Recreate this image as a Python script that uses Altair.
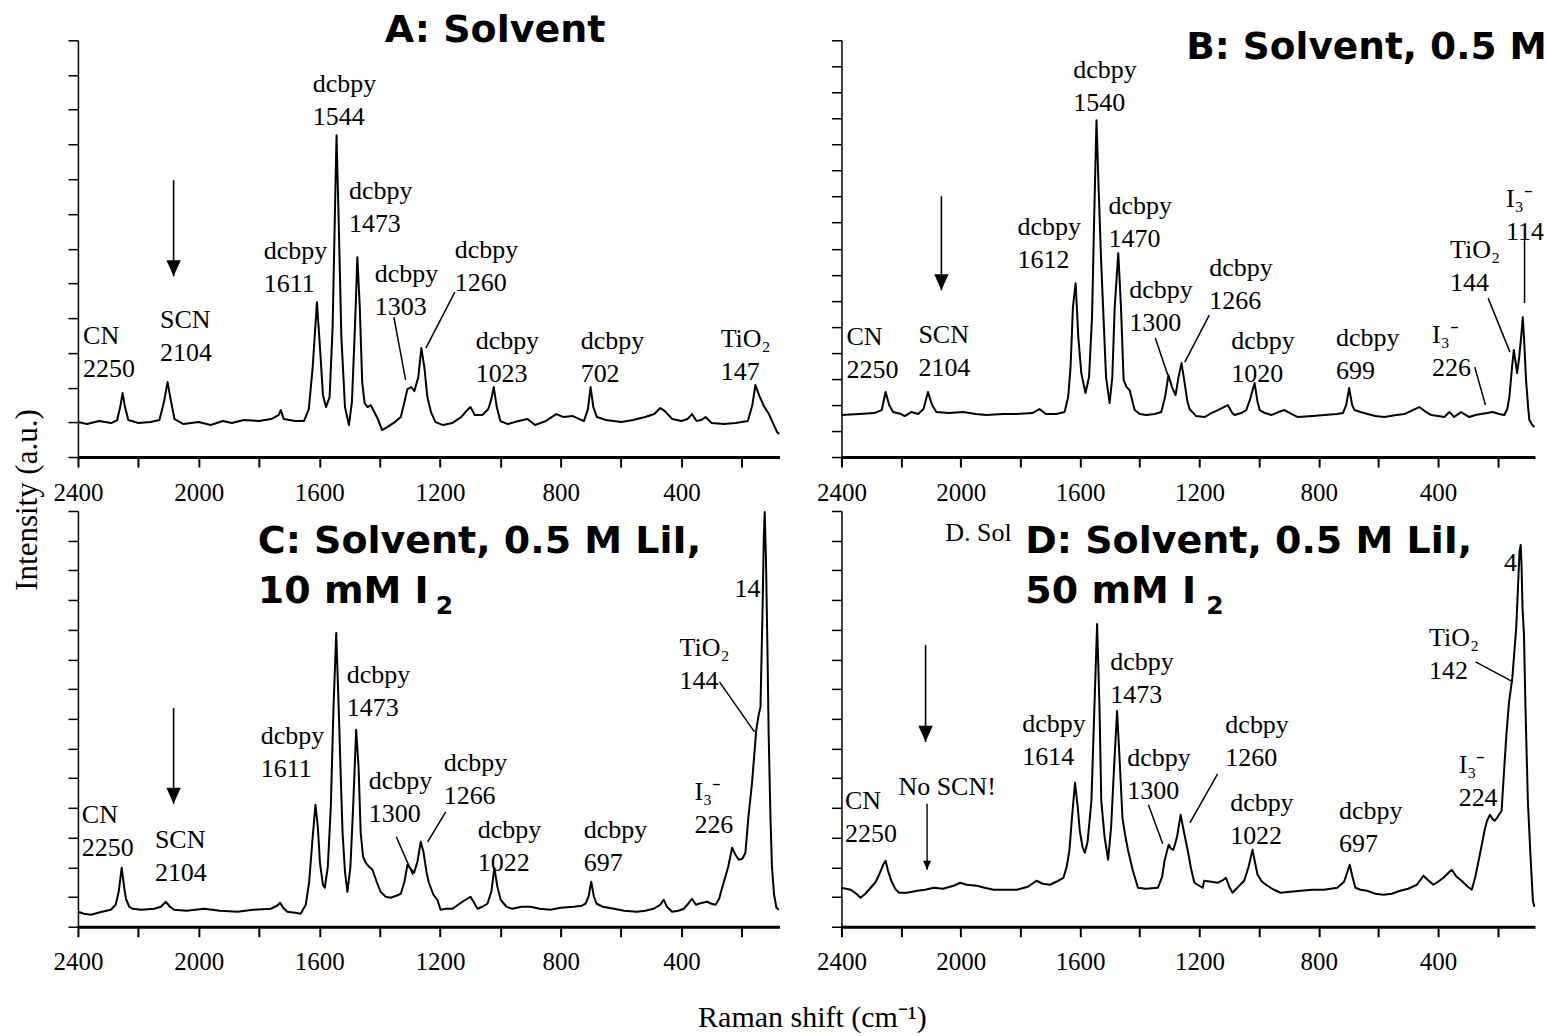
import altair as alt
import pandas as pd

SERIF = "Liberation Serif"
SANS = "DejaVu Sans"

# ---------------- spectra: (Raman shift cm-1, intensity a.u.) ----------------
A_SPECTRUM = [
    (2400, 35), (2370, 33), (2330, 36), (2290, 34), (2270, 37), (2260, 50), (2252, 64), (2244, 50),
    (2233, 37), (2200, 34), (2160, 35), (2130, 37), (2115, 55), (2103, 75), (2093, 58), (2080, 38),
    (2050, 33), (2000, 35), (1960, 32), (1920, 36), (1890, 34), (1850, 37), (1800, 36), (1760, 38),
    (1735, 42), (1728, 47), (1718, 38), (1680, 36), (1651, 36), (1635, 48), (1622, 90), (1608, 155),
    (1598, 110), (1588, 62), (1578, 50), (1566, 60), (1556, 130), (1548, 250), (1543, 322), (1537, 250),
    (1527, 120), (1515, 50), (1502, 32), (1492, 55), (1482, 130), (1474, 200), (1466, 150), (1458, 75),
    (1450, 54), (1440, 50), (1430, 52), (1418, 45), (1406, 38), (1392, 27), (1375, 30), (1350, 35),
    (1330, 40), (1318, 55), (1308, 68), (1295, 70), (1285, 66), (1272, 80), (1262, 109), (1252, 90),
    (1242, 60), (1230, 45), (1215, 35), (1190, 32), (1160, 34), (1130, 40), (1110, 47), (1099, 50),
    (1085, 42), (1060, 42), (1040, 48), (1030, 58), (1022, 70), (1012, 50), (1000, 36), (975, 33),
    (940, 36), (910, 38), (885, 32), (850, 36), (815, 43), (790, 40), (760, 41), (723, 36),
    (710, 48), (701, 70), (692, 50), (680, 40), (650, 37), (600, 35), (560, 37), (520, 40),
    (490, 43), (470, 49), (455, 46), (430, 38), (400, 36), (380, 38), (365, 43), (350, 36),
    (335, 37), (320, 40), (300, 34), (260, 33), (220, 34), (180, 36), (165, 52), (155, 72),
    (140, 60), (125, 50), (110, 43), (95, 33), (83, 25), (76, 23),
]

B_SPECTRUM = [
    (2400, 42), (2340, 43), (2290, 44), (2265, 47), (2252, 65), (2240, 52), (2227, 45), (2200, 43),
    (2188, 41), (2166, 45), (2143, 43), (2125, 48), (2110, 65), (2096, 52), (2082, 45), (2040, 44),
    (1992, 45), (1950, 43), (1914, 42), (1860, 43), (1814, 43), (1760, 44), (1736, 48), (1715, 43),
    (1680, 43), (1652, 45), (1640, 60), (1632, 90), (1624, 150), (1615, 174), (1606, 120), (1596, 84),
    (1582, 64), (1570, 80), (1560, 140), (1552, 250), (1545, 337), (1538, 270), (1530, 200), (1523, 150),
    (1513, 80), (1501, 54), (1492, 80), (1484, 150), (1472, 204), (1463, 150), (1454, 77), (1444, 70),
    (1434, 67), (1424, 55), (1417, 47), (1400, 43), (1378, 42), (1350, 43), (1328, 45), (1315, 60),
    (1304, 82), (1292, 70), (1280, 62), (1270, 80), (1260, 94), (1250, 75), (1240, 55), (1233, 48),
    (1211, 41), (1183, 40), (1160, 44), (1138, 47), (1105, 52), (1090, 44), (1082, 42), (1060, 44),
    (1043, 47), (1030, 58), (1015, 74), (1005, 55), (998, 47), (980, 44), (959, 42), (935, 45),
    (915, 47), (890, 43), (870, 40), (820, 41), (781, 42), (740, 43), (719, 44), (708, 52),
    (698, 69), (688, 52), (680, 47), (660, 45), (636, 43), (610, 41), (580, 40), (540, 42),
    (513, 43), (485, 47), (463, 50), (445, 46), (423, 42), (400, 41), (379, 40), (362, 45),
    (346, 40), (323, 45), (295, 40), (275, 42), (256, 43), (235, 44), (217, 45), (195, 43),
    (178, 42), (168, 48), (161, 60), (152, 90), (146, 107), (140, 95), (135, 84), (128, 100),
    (120, 125), (116, 140), (112, 120), (105, 77), (98, 50), (94, 37), (86, 33), (77, 30),
]

C_SPECTRUM = [
    (2400, 15), (2380, 13), (2357, 12), (2320, 15), (2291, 17), (2275, 22), (2265, 35), (2255, 59),
    (2247, 40), (2241, 28), (2230, 20), (2219, 18), (2190, 17), (2147, 18), (2125, 20), (2109, 25),
    (2095, 20), (2081, 17), (2040, 16), (1982, 18), (1930, 16), (1871, 15), (1820, 17), (1761, 18),
    (1740, 21), (1730, 24), (1720, 19), (1706, 15), (1680, 14), (1662, 13), (1645, 22), (1634, 44),
    (1622, 90), (1613, 122), (1605, 100), (1598, 64), (1588, 42), (1582, 39), (1572, 60), (1562, 120),
    (1553, 220), (1544, 294), (1536, 220), (1528, 140), (1523, 94), (1515, 55), (1507, 35), (1497, 60),
    (1488, 120), (1478, 197), (1470, 160), (1463, 94), (1455, 70), (1446, 64), (1435, 60), (1424, 57),
    (1410, 45), (1397, 35), (1380, 30), (1364, 29), (1345, 31), (1330, 33), (1318, 45), (1308, 62),
    (1297, 58), (1286, 54), (1275, 65), (1264, 85), (1255, 75), (1245, 55), (1237, 44), (1222, 32),
    (1209, 27), (1198, 17), (1180, 18), (1159, 18), (1140, 22), (1126, 25), (1099, 30), (1087, 24),
    (1076, 18), (1060, 20), (1043, 23), (1030, 35), (1020, 59), (1010, 40), (999, 27), (980, 20),
    (961, 18), (930, 20), (900, 20), (870, 18), (834, 17), (800, 19), (757, 20), (730, 21),
    (718, 23), (708, 30), (699, 45), (690, 30), (681, 23), (660, 20), (624, 18), (590, 16),
    (547, 15), (520, 16), (492, 18), (470, 22), (459, 27), (448, 20), (431, 15), (410, 16),
    (392, 18), (375, 24), (365, 28), (352, 22), (343, 23), (330, 24), (315, 25), (300, 23),
    (287, 22), (275, 28), (268, 36), (260, 44), (245, 60), (232, 79), (221, 72), (210, 67),
    (198, 68), (188, 74), (178, 110), (166, 144), (152, 197), (144, 212), (138, 220), (131, 320),
    (127, 390), (124, 415), (120, 370), (115, 280), (111, 194), (105, 110), (100, 60), (93, 32),
    (85, 19), (77, 17),
]

D_SPECTRUM = [
    (2400, 39), (2385, 38), (2369, 37), (2350, 33), (2336, 29), (2320, 33), (2302, 39), (2285, 45),
    (2274, 52), (2260, 62), (2252, 66), (2244, 56), (2233, 46), (2220, 38), (2207, 34), (2180, 34),
    (2146, 36), (2120, 37), (2090, 39), (2060, 38), (2024, 41), (2002, 44), (1980, 42), (1946, 41),
    (1920, 39), (1890, 37), (1850, 37), (1812, 37), (1775, 40), (1746, 46), (1725, 43), (1701, 42),
    (1680, 45), (1656, 49), (1645, 60), (1636, 76), (1627, 110), (1617, 144), (1608, 120), (1601, 96),
    (1592, 80), (1584, 74), (1575, 85), (1562, 126), (1552, 220), (1543, 303), (1535, 220), (1529, 126),
    (1518, 90), (1506, 67), (1496, 100), (1486, 160), (1476, 216), (1468, 170), (1458, 109), (1448, 90),
    (1439, 76), (1423, 56), (1406, 39), (1380, 38), (1339, 39), (1325, 50), (1317, 66), (1303, 82),
    (1295, 78), (1287, 77), (1275, 90), (1263, 112), (1252, 95), (1239, 76), (1228, 58), (1217, 44),
    (1189, 39), (1184, 46), (1160, 45), (1139, 44), (1120, 47), (1111, 49), (1100, 40), (1089, 34),
    (1070, 40), (1050, 46), (1035, 60), (1022, 77), (1012, 62), (1005, 52), (990, 45), (972, 41),
    (950, 37), (928, 34), (895, 35), (861, 36), (820, 37), (783, 37), (760, 38), (738, 39),
    (715, 45), (696, 62), (687, 50), (677, 39), (660, 37), (638, 36), (610, 33), (583, 32),
    (555, 33), (527, 36), (500, 38), (471, 42), (449, 51), (435, 47), (416, 42), (400, 45),
    (382, 49), (365, 54), (354, 57), (338, 50), (321, 46), (300, 40), (287, 37), (275, 50),
    (260, 72), (245, 95), (236, 106), (226, 112), (218, 108), (210, 106), (200, 110), (187, 116),
    (180, 150), (171, 192), (162, 225), (151, 249), (143, 280), (138, 299), (132, 340), (127, 375),
    (123, 382), (120, 360), (117, 320), (112, 292), (107, 220), (99, 126), (90, 70), (82, 26),
    (77, 20),
]

# ---------------- peak annotations: (text, shift at left edge, intensity at centre) ----------------
A_LABELS = [
    ("CN\n2250", 2383, 105), ("SCN\n2104", 2128, 121), ("dcbpy\n1611", 1784, 190),
    ("dcbpy\n1544", 1622, 357), ("dcbpy\n1473", 1502, 250), ("dcbpy\n1303", 1416, 167),
    ("dcbpy\n1260", 1151, 191), ("dcbpy\n1023", 1082, 100), ("dcbpy\n702", 734, 100),
    ("TiO\u2082\n147", 270, 102),
]
B_LABELS = [
    ("CN\n2250", 2383, 104), ("SCN\n2104", 2142, 106), ("dcbpy\n1612", 1810, 214),
    ("dcbpy\n1540", 1623, 371), ("dcbpy\n1470", 1505, 235), ("dcbpy\n1300", 1435, 151),
    ("dcbpy\n1266", 1167, 173), ("dcbpy\n1020", 1093, 100), ("dcbpy\n699", 742, 103),
    ("I\u2083\u207b\n226", 420, 106), ("TiO\u2082\n144", 360, 191), ("I\u2083\u207b\n114", 172, 242),
]
C_LABELS = [
    ("CN\n2250", 2387, 95), ("SCN\n2104", 2145, 70), ("dcbpy\n1611", 1794, 174),
    ("dcbpy\n1473", 1509, 235), ("dcbpy\n1300", 1436, 129), ("dcbpy\n1266", 1188, 147),
    ("dcbpy\n1022", 1075, 80), ("dcbpy\n697", 724, 80), ("I\u2083\u207b\n226", 357, 118),
    ("TiO\u2082\n144", 406, 262), ("14", 224, 338),
]
D_LABELS = [
    ("D. Sol", 2052, 394), ("CN\n2250", 2388, 109), ("No SCN!", 2209, 140),
    ("dcbpy\n1614", 1794, 186), ("dcbpy\n1473", 1499, 248), ("dcbpy\n1300", 1442, 152),
    ("dcbpy\n1260", 1113, 185), ("dcbpy\n1022", 1097, 107), ("dcbpy\n697", 732, 99),
    ("I\u2083\u207b\n224", 331, 145), ("TiO\u2082\n142", 430, 272), ("4", 179, 364),
]

# leader lines: (shift1, intensity1, shift2, intensity2)
A_LEADERS = [(1353, 140, 1314, 77), (1151, 165, 1247, 109)]
B_LEADERS = [(1348, 119, 1306, 82), (1167, 142, 1249, 95), (277, 90, 241, 52),
             (232, 159, 159, 105), (110, 217, 110, 154)]
C_LEADERS = [(1345, 90, 1290, 52), (1181, 115, 1241, 85), (274, 245, 158, 195)]
D_LEADERS = [(1371, 122, 1323, 83), (1139, 153, 1232, 104), (274, 265, 149, 245)]

# arrows: (shift, intensity of tail, intensity of tip)
A_ARROWS = [(2083, 277, 181)]
B_ARROWS = [(2065, 261, 167)]
C_ARROWS = [(2083, 219, 123)]
D_ARROWS = [(2118, 282, 185)]
D_SMALL_ARROWS = [(2113, 123, 57)]

# panel headings: (text, x offset, baseline offset, font size)
A_TITLE = [("A: Solvent", 307, 2, 38)]
B_TITLE = [("B: Solvent, 0.5 M", 345, 19, 37.5)]
C_TITLE = [("C: Solvent, 0.5 M LiI,", 180, 42, 38), ("10 mM I", 180, 92, 38), ("2", 358, 103, 25)]
D_TITLE = [("D: Solvent, 0.5 M LiI,", 184, 42, 38), ("50 mM I", 184, 92, 38), ("2", 365, 103, 25)]

X_TICKS = [2400, 2200, 2000, 1800, 1600, 1400, 1200, 1000, 800, 600, 400, 200]

PANELS = [
    dict(spectrum=A_SPECTRUM, labels=A_LABELS, leaders=A_LEADERS, arrows=A_ARROWS, small=[],
         width=702, height=417, yint=12, title=A_TITLE),
    dict(spectrum=B_SPECTRUM, labels=B_LABELS, leaders=B_LEADERS, arrows=B_ARROWS, small=[],
         width=694, height=417, yint=16, title=B_TITLE),
    dict(spectrum=C_SPECTRUM, labels=C_LABELS, leaders=C_LEADERS, arrows=C_ARROWS, small=[],
         width=702, height=416, yint=14, title=C_TITLE),
    dict(spectrum=D_SPECTRUM, labels=D_LABELS, leaders=D_LEADERS, arrows=D_ARROWS,
         small=D_SMALL_ARROWS, width=694, height=416, yint=14, title=D_TITLE),
]

HEAD = "M-0.45,-1L0.45,-1L0,0Z"


def build(p, idx):
    xs = alt.Scale(domain=[2400, 75], nice=False, zero=False)
    ys = alt.Scale(domain=[0, p["height"]], nice=False, zero=False)
    xaxis = alt.Axis(values=X_TICKS, format="d",
                     labelExpr="datum.value % 400 == 0 ? datum.label : ''",
                     title=None, grid=False, tickSize=10, tickWidth=2, tickColor="black",
                     domainColor="black", domainWidth=3, labelFont=SERIF, labelFontSize=25,
                     labelColor="black", labelPadding=13, labelFlush=False, labelOverlap=False)
    yvals = [p["height"] * i / p["yint"] for i in range(p["yint"] + 1)]
    yaxis = alt.Axis(values=yvals, labels=False, title=None, grid=False, tickSize=10,
                     tickWidth=1.5, tickColor="black", domainColor="black", domainWidth=1.5)

    def X(f):
        return alt.X(f, type="quantitative", scale=xs, axis=xaxis)

    def Y(f):
        return alt.Y(f, type="quantitative", scale=ys, axis=yaxis)

    spec = pd.DataFrame(p["spectrum"], columns=["x", "y"])
    layers = [
        alt.Chart(spec).mark_line(color="black", strokeWidth=2, strokeJoin="round")
        .encode(x=X("x"), y=Y("y"))
    ]
    lab = pd.DataFrame(p["labels"], columns=["t", "x", "y"])
    multi = lab[lab["t"].str.contains("\n")]
    single = lab[~lab["t"].str.contains("\n")]
    for df, dy in ((multi, -16.5), (single, 0)):
        if len(df) == 0:
            continue
        layers.append(
            alt.Chart(df).mark_text(align="left", baseline="middle", font=SERIF, fontSize=26,
                                    lineHeight=33, lineBreak="\n", color="black", dy=dy)
            .encode(x=X("x"), y=Y("y"), text="t:N")
        )
    led = pd.DataFrame(p["leaders"], columns=["x", "y", "x2", "y2"])
    layers.append(
        alt.Chart(led).mark_rule(color="black", strokeWidth=1.5)
        .encode(x=X("x"), y=Y("y"), x2="x2:Q", y2="y2:Q")
    )
    for arrows, hsize, sw in ((p["arrows"], 1024, 1.6), (p["small"], 324, 1.4)):
        if not arrows:
            continue
        ar = pd.DataFrame(arrows, columns=["x", "y", "tip"])
        layers.append(
            alt.Chart(ar).mark_rule(color="black", strokeWidth=sw)
            .encode(x=X("x"), y=Y("y"), y2="tip:Q")
        )
        layers.append(
            alt.Chart(ar).mark_point(shape=HEAD, filled=True, opacity=1, color="black",
                                     size=hsize, strokeWidth=0)
            .encode(x=X("x"), y=Y("tip"))
        )
    for text, tx, ty, ts in p["title"]:
        layers.append(
            alt.Chart(pd.DataFrame({"t": [text]}))
            .mark_text(align="left", baseline="alphabetic", font=SANS, fontWeight="bold",
                       fontSize=ts, color="black")
            .encode(x=alt.value(tx), y=alt.value(ty), text="t:N")
        )
    if idx == 0:
        layers.append(
            alt.Chart(pd.DataFrame({"t": ["Intensity (a.u.)"]}))
            .mark_text(align="center", baseline="middle", font=SERIF, fontSize=31, angle=270,
                       color="black")
            .encode(x=alt.value(-50), y=alt.value(460), text="t:N")
        )
    if idx == 2:
        layers.append(
            alt.Chart(pd.DataFrame({"t": ["Raman shift (cm\u207b\u00b9)"]}))
            .mark_text(align="center", baseline="alphabetic", font=SERIF, fontSize=30,
                       color="black")
            .encode(x=alt.value(735), y=alt.value(516), text="t:N")
        )
    return alt.layer(*layers).properties(width=p["width"], height=p["height"])


charts = [build(p, i) for i, p in enumerate(PANELS)]

chart = (
    alt.concat(*charts, columns=2, spacing={"row": 54, "column": 62}, bounds="flush")
    .properties(padding={"left": 12, "top": 12, "right": 0, "bottom": 0})
    .resolve_scale(x="independent", y="independent")
    .configure_view(stroke=None)
)

chart.save("out.html", embed_options={"renderer": "svg", "actions": False})
